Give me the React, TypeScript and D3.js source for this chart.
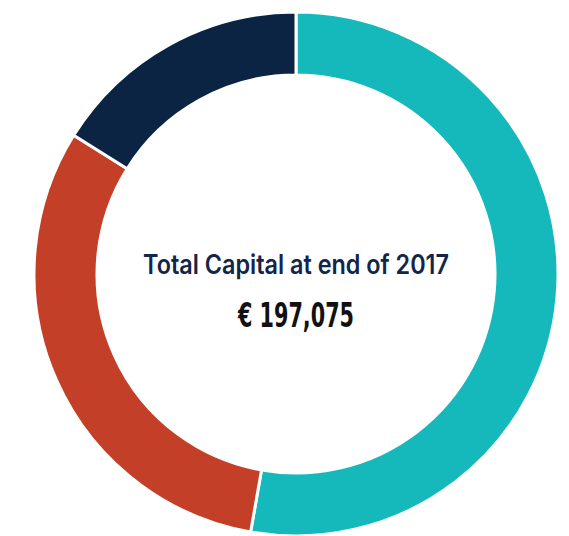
import { useMemo } from "react";
import * as d3 from "d3";

// Segment values, estimated from the ring's angles (sum = total)
const segments = ["Segment A", "Segment B", "Segment C"];
const values = [104000, 61300, 31775];
const colors = ["#16B9BB", "#C43F27", "#0C2444"];

const titleLabel = "Total Capital at end of 2017";
const totalLabel = "€ 197,075";

const WIDTH = 569;
const HEIGHT = 536;

export default function App() {
  const cx = 296;
  const cy = 274;
  const outer = 262;
  const inner = 199;

  const arcs = useMemo(() => {
    const pie = d3.pie<number>().sort(null).value((d) => d);
    return pie(values);
  }, []);

  const arc = d3.arc<d3.PieArcDatum<number>>().innerRadius(inner).outerRadius(outer);

  return (
    <svg
      width={WIDTH}
      height={HEIGHT}
      style={{ position: "absolute", left: 0, top: 0, background: "#fff" }}
    >
      <g transform={`translate(${cx},${cy})`}>
        {arcs.map((a, i) => (
          <path
            key={segments[i]}
            d={arc(a) || ""}
            fill={colors[i]}
            stroke="#fff"
            strokeWidth={3}
          />
        ))}
        <text
          x={0}
          y={0}
          textAnchor="middle"
          fill="#13254a"
          fontFamily="Inter, Roboto, sans-serif"
          fontWeight={600}
          fontSize={26.5}
          textLength={306}
          lengthAdjust="spacingAndGlyphs"
        >
          {titleLabel}
        </text>
        <text
          x={0}
          y={53}
          textAnchor="middle"
          fill="#111"
          fontFamily="'Liberation Sans Narrow', 'DejaVu Sans Condensed', sans-serif"
          fontWeight={700}
          fontSize={33}
          textLength={116}
          lengthAdjust="spacingAndGlyphs"
        >
          {totalLabel}
        </text>
      </g>
    </svg>
  );
}
